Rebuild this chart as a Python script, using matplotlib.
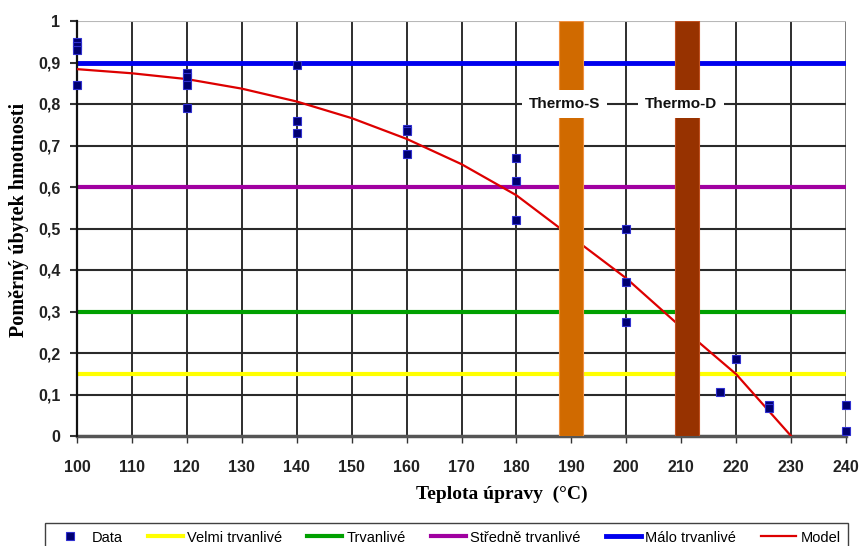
import matplotlib
matplotlib.use("Agg")
import matplotlib.pyplot as plt
import numpy as np

# Measured mass loss vs. treatment temperature
data_temp = [100, 100, 100, 100,
             120, 120, 120, 120,
             140, 140, 140,
             160, 160, 160,
             180, 180, 180,
             200, 200, 200,
             217, 220, 226, 226,
             240, 240]
data_loss = [0.95, 0.94, 0.93, 0.845,
             0.875, 0.865, 0.845, 0.79,
             0.895, 0.76, 0.73,
             0.74, 0.735, 0.68,
             0.67, 0.615, 0.52,
             0.50, 0.37, 0.275,
             0.105, 0.185, 0.075, 0.068,
             0.075, 0.012]

# Model curve
model_temp = [100, 110, 120, 130, 140, 150, 160, 170, 180, 190, 200, 210, 220, 230]
model_loss = [0.884, 0.874, 0.860, 0.837, 0.806, 0.766, 0.716, 0.655, 0.580,
              0.480, 0.380, 0.262, 0.149, 0.0]

# Durability class thresholds
class_names = ["Velmi trvanlivé", "Trvanlivé", "Středně trvanlivé", "Málo trvanlivé"]
class_levels = [0.15, 0.30, 0.60, 0.90]
class_colors = ["#ffff00", "#00a000", "#a000a0", "#0000ee"]

# Commercial treatment temperatures
thermo_names = ["Thermo-S", "Thermo-D"]
thermo_temp = [190, 211]
thermo_height = [1.0, 1.0]
thermo_colors = ["#d06a00", "#973200"]

x_ticks = list(range(100, 241, 10))
y_ticks = [0, 0.1, 0.2, 0.3, 0.4, 0.5, 0.6, 0.7, 0.8, 0.9, 1.0]
y_tick_labels = ["0", "0,1", "0,2", "0,3", "0,4", "0,5", "0,6", "0,7", "0,8", "0,9", "1"]

plt.rcParams["font.family"] = ["Liberation Sans", "DejaVu Sans"]

fig = plt.figure(figsize=(8.61, 5.46), dpi=100)
ax = fig.add_axes([77 / 861, 1 - 436 / 546, 769 / 861, 415 / 546])

ax.set_xlim(100, 240)
ax.set_ylim(0, 1)

# grid
for xv in x_ticks[1:]:
    ax.axvline(xv, color="#6e6e6e" if xv == 240 else "#1c1c1c", lw=1.3, zorder=1)
for yv in y_ticks[1:]:
    ax.axhline(yv, color="#b8b8b8" if yv == 1.0 else "#2a2a2a", lw=1.5, zorder=1)

handles = []
h_data, = ax.plot(data_temp, data_loss, linestyle="none", marker="s", markersize=6,
                  markerfacecolor="#000070", markeredgecolor="#3030d0",
                  markeredgewidth=0.8, zorder=5, clip_on=False, label="Data")
handles.append(h_data)

for name, lvl, col in zip(class_names, class_levels, class_colors):
    h = ax.axhline(lvl, color=col, lw=3.5 if lvl == 0.9 else 3.0, zorder=2, label=name)
    handles.append(h)

h_model, = ax.plot(model_temp, model_loss, color="#dd0000", lw=1.6, zorder=4, label="Model")
handles.append(h_model)

ax.bar(thermo_temp, thermo_height, width=4.4, color=thermo_colors,
       edgecolor=["#f09040", "#c05020"], linewidth=0.8, zorder=6)
for name, t, dx in zip(thermo_names, thermo_temp, [-1.2, -1.0]):
    ax.text(t + dx, 0.8, name, ha="center", va="center", fontsize=11,
            fontweight="bold", color="#111111", zorder=7,
            bbox=dict(boxstyle="square,pad=0.45", facecolor="white", edgecolor="none"))

ax.set_xticks(x_ticks)
ax.set_xticklabels([str(v) for v in x_ticks])
ax.set_yticks(y_ticks)
ax.set_yticklabels(y_tick_labels)
ax.tick_params(axis="x", direction="out", length=5, width=1, pad=12, labelsize=11.5,
               color="#333333")
ax.tick_params(axis="y", direction="out", length=5, width=1.5, pad=7, labelsize=11.5,
               color="#333333")
for lab in ax.get_xticklabels() + ax.get_yticklabels():
    lab.set_fontweight("bold")
    lab.set_color("#222222")

for side in ["top", "right"]:
    ax.spines[side].set_visible(False)
ax.spines["left"].set_color("#111111")
ax.spines["left"].set_linewidth(1.6)
ax.spines["left"].set_zorder(3)
ax.spines["bottom"].set_color("#555555")
ax.spines["bottom"].set_linewidth(2.5)

ax.set_ylabel("Poměrný úbytek hmotnosti", fontsize=14.5, fontweight="bold",
              family="Liberation Serif")
ax.yaxis.set_label_coords(-0.063, 0.52)
ax.set_xlabel("Teplota úpravy  (°C)", fontsize=14, fontweight="bold",
              family="Liberation Serif")
ax.xaxis.set_label_coords(0.553, -0.12)

leg = fig.legend(handles=handles, loc="upper left",
                 bbox_to_anchor=(38 / 861, 1 - 516 / 546, 817 / 861, 0.0),
                 mode="expand", ncol=6, fontsize=10.5, frameon=True,
                 fancybox=False, edgecolor="#111111", handlelength=2.4,
                 handletextpad=0.3, borderpad=0.5, columnspacing=0.8)
leg.get_frame().set_linewidth(1.0)

fig.savefig("out.png", dpi=100)
